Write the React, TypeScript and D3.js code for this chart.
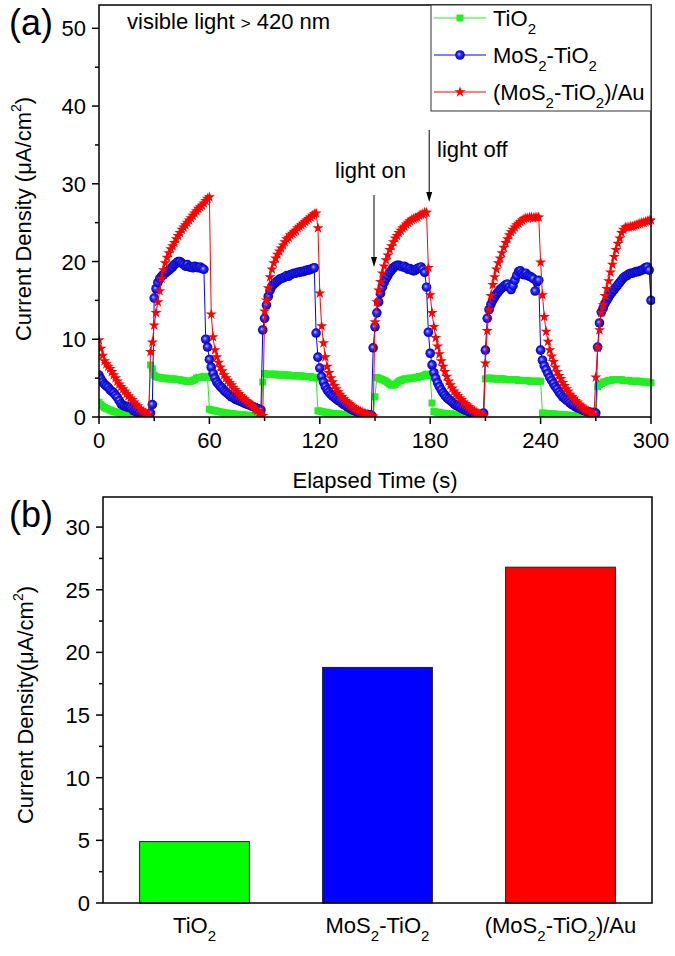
import * as d3 from "d3";

const FONT = "'Liberation Sans', Arial, Helvetica, sans-serif";

// photocurrent, one sample per second from 0 s to 300 s
const TIO2 = [
  1.9, 1.6, 1.4, 1.2, 1.1, 1.0, 0.9, 0.8, 0.7, 0.65, 0.6, 0.55, 0.5, 0.45, 0.4, 0.35, 0.3, 0.3, 0.25, 0.25,
  0.2, 0.2, 0.15, 0.15, 0.1, 0.1, 0.1, 0.1,
  6.7, 6.2, 5.4, 5.2, 5.1, 5.1, 5.0, 5.0, 5.0, 4.9, 4.9, 4.9, 4.9, 4.9, 4.8, 4.8, 4.8, 4.7, 4.7, 4.6, 4.6, 4.6,
  4.6, 4.7, 4.8, 5.0, 5.1, 5.1, 5.1, 5.2, 5.2, 5.1,
  1.0, 0.9, 0.85, 0.8, 0.75, 0.7, 0.65, 0.6, 0.55, 0.5, 0.5, 0.45, 0.4, 0.4, 0.35, 0.35, 0.3, 0.3, 0.3, 0.25,
  0.25, 0.2, 0.2, 0.2, 0.15, 0.15, 0.15, 0.1, 0.1,
  4.5, 5.6, 5.5, 5.5, 5.5, 5.5, 5.5, 5.5, 5.4, 5.4, 5.4, 5.4, 5.4, 5.4, 5.4, 5.3, 5.3, 5.3, 5.3, 5.3,
  5.3, 5.3, 5.2, 5.2, 5.2, 5.2, 5.2, 5.1, 5.1, 5.0,
  0.8, 0.75, 0.7, 0.65, 0.6, 0.55, 0.5, 0.5, 0.45, 0.45, 0.4, 0.4, 0.35, 0.35, 0.3, 0.3, 0.25, 0.25, 0.2, 0.2,
  0.2, 0.15, 0.15, 0.15, 0.1, 0.1, 0.1, 0.1, 0.1, 0.1, 0.1,
  2.6, 5.1, 5.0, 4.9, 4.8, 4.7, 4.6, 4.4, 4.2, 4.1, 4.1, 4.2, 4.4, 4.6, 4.7, 4.8, 4.9, 4.9, 4.9, 5.0,
  5.0, 5.0, 5.1, 5.1, 5.2, 5.2, 5.3, 5.4, 5.5, 5.5, 5.3,
  1.8, 0.7, 0.65, 0.6, 0.55, 0.5, 0.5, 0.45, 0.45, 0.4, 0.4, 0.35, 0.35, 0.3, 0.3, 0.3, 0.25, 0.25, 0.2, 0.2,
  0.2, 0.15, 0.15, 0.15, 0.1, 0.1, 0.1, 0.1, 0.1,
  4.9, 5.0, 5.0, 5.0, 4.9, 4.9, 4.9, 4.9, 4.9, 4.9, 4.9, 4.8, 4.8, 4.8, 4.8, 4.8, 4.8, 4.8, 4.7, 4.7,
  4.7, 4.7, 4.7, 4.7, 4.6, 4.6, 4.6, 4.6, 4.6, 4.6, 4.6,
  0.5, 0.5, 0.45, 0.45, 0.4, 0.4, 0.4, 0.35, 0.35, 0.3, 0.3, 0.3, 0.25, 0.25, 0.25, 0.2, 0.2, 0.2, 0.2, 0.15,
  0.15, 0.15, 0.15, 0.1, 0.1, 0.1, 0.1, 0.1, 0.1, 0.1,
  3.9, 4.2, 4.3, 4.5, 4.5, 4.6, 4.7, 4.7, 4.8, 4.8, 4.8, 4.8, 4.8, 4.8, 4.7, 4.7, 4.7, 4.7, 4.6, 4.6,
  4.6, 4.6, 4.6, 4.6, 4.5, 4.5, 4.5, 4.5, 4.4, 4.4,
];

const MOS2_TIO2 = [
  5.4, 4.9, 4.5, 4.2, 4.0, 3.8, 3.5, 3.3, 3.1, 2.8, 2.5, 2.1, 1.7, 1.5, 1.4, 1.3, 1.3, 1.2, 1.0, 0.8,
  0.7, 0.6, 0.5, 0.45, 0.4, 0.35, 0.3, 0.3, 0.5, 1.6,
  15.3, 16.5, 17.3, 17.8, 18.1, 18.3, 18.5, 18.7, 18.9, 19.1, 19.3, 19.6, 19.8, 20.0, 20.0, 19.8, 19.6, 19.4, 19.6, 19.3,
  19.3, 19.2, 19.4, 19.3, 19.2, 19.3, 19.1, 19.0,
  10.0, 9.0, 7.4, 6.4, 5.6, 5.0, 4.5, 4.2, 3.9, 3.7, 3.4, 3.2, 3.0, 2.8, 2.6, 2.5, 2.3, 2.2, 2.1, 2.0,
  1.9, 1.8, 1.7, 1.6, 1.5, 1.4, 1.3, 1.2, 1.1, 1.0, 0.9,
  11.2, 12.7, 14.4, 15.5, 16.3, 16.8, 17.1, 17.3, 17.5, 17.7, 17.8, 17.9, 18.0, 18.2, 18.1, 18.3, 18.4, 18.5, 18.5, 18.6,
  18.6, 18.7, 18.7, 18.8, 18.9, 18.9, 19.0, 19.1, 19.2,
  10.8, 7.7, 6.3, 5.2, 4.5, 3.9, 3.5, 3.2, 2.9, 2.7, 2.5, 2.3, 2.1, 2.0, 1.8, 1.6, 1.5, 1.3, 1.2, 1.0,
  0.9, 0.8, 0.7, 0.6, 0.5, 0.4, 0.35, 0.3, 0.3, 0.25, 0.25,
  8.9, 11.6, 13.4, 14.8, 15.9, 16.7, 17.3, 17.8, 18.2, 18.6, 18.9, 19.2, 19.4, 19.5, 19.5, 19.4, 19.3, 19.4, 19.2, 19.0,
  19.1, 18.9, 18.8, 18.9, 19.1, 19.2, 19.3, 19.0, 18.6,
  16.7, 10.9, 8.2, 6.7, 5.7, 5.0, 4.4, 3.9, 3.5, 3.1, 2.8, 2.5, 2.3, 2.1, 1.9, 1.7, 1.5, 1.4, 1.3, 1.1,
  1.0, 0.9, 0.8, 0.7, 0.6, 0.5, 0.4, 0.35, 0.3, 0.3, 0.3,
  0.5, 8.6, 12.7, 13.8, 14.5, 15.0, 15.4, 15.8, 16.1, 16.4, 16.6, 16.8, 17.0, 17.1, 16.7, 16.4, 16.9, 17.6, 18.2, 18.7,
  18.8, 18.5, 18.3, 18.5, 18.2, 18.1, 18.0, 17.8, 16.2, 17.4, 17.6,
  8.6, 7.3, 6.6, 6.1, 5.6, 5.1, 4.7, 4.3, 3.9, 3.6, 3.2, 2.9, 2.6, 2.4, 2.2, 2.0, 1.8, 1.6, 1.5, 1.3,
  1.2, 1.1, 1.0, 0.9, 0.8, 0.7, 0.7, 0.6, 0.5, 0.6, 0.5,
  9.0, 12.1, 13.5, 14.0, 14.6, 15.0, 15.4, 15.8, 16.1, 16.4, 16.7, 17.0, 17.3, 17.6, 17.9, 18.1, 18.2, 18.4, 18.5, 18.5,
  18.6, 18.7, 18.7, 18.8, 18.9, 19.0, 19.2, 19.3, 18.9, 15.0,
];

const MOS2_TIO2_AU = [
  9.9, 8.8, 7.9, 7.2, 6.8, 6.5, 6.2, 5.8, 5.4, 5.0, 4.6, 4.2, 3.9, 3.6, 3.3, 3.0, 2.7, 2.4, 2.2, 1.9,
  1.6, 1.4, 1.1, 0.9, 0.7, 0.5, 0.3, 0.2,
  8.4, 9.6, 11.8, 13.4, 14.8, 16.2, 17.8, 18.9, 19.8, 20.5, 21.1, 21.6, 22.0, 22.4, 22.9, 23.3, 23.7, 24.1, 24.4, 24.7,
  25.0, 25.3, 25.6, 25.9, 26.2, 26.5, 26.8, 27.0, 27.2, 27.5, 27.8, 28.1, 28.3,
  13.2, 10.3, 8.6, 7.7, 7.0, 6.4, 5.9, 5.4, 5.0, 4.7, 4.4, 4.1, 3.8, 3.5, 3.2, 3.0, 2.7, 2.5, 2.3, 2.1,
  1.9, 1.7, 1.5, 1.3, 1.0, 0.8, 0.5, 0.3, 0.15,
  13.6, 15.0, 16.6, 18.0, 19.0, 19.8, 20.4, 20.9, 21.3, 21.7, 22.1, 22.5, 22.9, 23.1, 23.4, 23.6, 23.8, 24.0, 24.3, 24.5,
  24.7, 24.9, 25.1, 25.3, 25.5, 25.7, 25.9, 26.1, 26.2,
  24.3, 15.9, 11.7, 9.5, 7.7, 6.5, 5.7, 5.0, 4.5, 4.0, 3.6, 3.2, 2.9, 2.6, 2.3, 2.1, 1.9, 1.7, 1.5, 1.3,
  1.1, 0.95, 0.8, 0.7, 0.6, 0.5, 0.4, 0.3, 0.2, 0.15, 0.1,
  12.2, 14.8, 16.3, 17.4, 18.5, 19.4, 20.2, 20.8, 21.5, 22.0, 22.5, 23.0, 23.3, 23.7, 24.0, 24.3, 24.5, 24.8, 25.0, 25.2,
  25.4, 25.5, 25.6, 25.7, 25.9, 26.0, 26.1, 26.3, 26.3,
  19.2, 15.7, 13.4, 11.6, 10.2, 9.1, 8.1, 7.2, 6.5, 5.8, 5.2, 4.6, 4.1, 3.7, 3.3, 3.0, 2.7, 2.4, 2.2, 1.9,
  1.7, 1.5, 1.3, 1.1, 0.9, 0.75, 0.6, 0.45, 0.35, 0.25, 0.15,
  6.9, 11.1, 13.8, 15.6, 17.0, 18.0, 19.0, 19.8, 20.4, 21.1, 21.8, 22.4, 22.9, 23.4, 23.8, 24.1, 24.4, 24.7, 24.9, 25.1,
  25.3, 25.5, 25.6, 25.6, 25.7, 25.7, 25.6, 25.7, 25.7, 25.7,
  19.9, 15.7, 12.9, 11.0, 9.7, 8.6, 7.8, 7.1, 6.4, 5.8, 5.3, 4.9, 4.4, 4.0, 3.6, 3.3, 2.9, 2.6, 2.4, 2.1,
  1.9, 1.6, 1.4, 1.2, 1.0, 0.85, 0.7, 0.5, 0.35, 0.2,
  5.1, 8.9, 11.2, 13.4, 14.4, 15.6, 16.5, 17.5, 18.6, 19.6, 20.6, 21.5, 22.3, 23.0, 23.7, 24.1, 24.4, 24.4, 24.4, 24.5,
  24.5, 24.6, 24.7, 24.8, 24.9, 25.0, 25.0, 25.1, 25.2, 25.3, 25.3,
];

const SAMPLE_STEP_S = 1;
const SERIES_LABELS = ["TiO2", "MoS2-TiO2", "(MoS2-TiO2)/Au"];
const SERIES_COLORS = ["#22ee22", "#0000ff", "#ff0000"];

const TIME_TICKS = [0, 60, 120, 180, 240, 300];
const CURRENT_TICKS = [0, 10, 20, 30, 40, 50];

// panel (b): averaged photocurrent
const BAR_LABELS = ["TiO2", "MoS2-TiO2", "(MoS2-TiO2)/Au"];
const BAR_VALUES = [4.9, 18.8, 26.8];
const BAR_COLORS = ["#00ff00", "#0000ff", "#ff0000"];
const BAR_TICKS = [0, 5, 10, 15, 20, 25, 30];

const LIGHT_ON_S = 150;
const LIGHT_OFF_S = 180;

const A = { left: 99, right: 651, top: 5, bottom: 417 };
const B = { left: 103, right: 652, top: 497, bottom: 903 };

const starPath = d3.symbol(d3.symbolStar, 38)() as string;

// digits become subscripts: "MoS2-TiO2" -> MoS₂-TiO₂
const Chem = ({ text, sub = 15, shift = 8 }: { text: string; sub?: number; shift?: number }) => {
  let lowered = false;
  return (
    <>
      {text
        .split(/(\d)/)
        .filter((p) => p !== "")
        .map((p, i) => {
          const isSub = /^\d$/.test(p);
          const dy = isSub ? (lowered ? 0 : shift) : lowered ? -shift : 0;
          lowered = isSub;
          return (
            <tspan key={i} dy={dy} fontSize={isSub ? sub : undefined}>
              {p}
            </tspan>
          );
        })}
    </>
  );
};

const Marker = ({ kind, x, y, color }: { kind: number; x: number; y: number; color: string }) => {
  if (kind === 0) return <rect x={x - 3.5} y={y - 3.5} width={7} height={7} fill={color} />;
  if (kind === 1) return <circle cx={x} cy={y} r={4.8} fill="url(#ball)" />;
  return <path d={starPath} transform={`translate(${x},${y})`} fill={color} />;
};

const Arrow = ({ x, y0, y1 }: { x: number; y0: number; y1: number }) => (
  <g>
    <line x1={x} x2={x} y1={y0} y2={y1 - 8} stroke="#000" strokeWidth={1} />
    <path d={`M${x - 3},${y1 - 10}L${x + 3},${y1 - 10}L${x},${y1}Z`} fill="#000" />
  </g>
);

const YTitle = ({ x, y, text }: { x: number; y: number; text: string }) => (
  <text
    transform={`translate(${x},${y}) rotate(-90)`}
    textAnchor="middle"
    fontSize={22}
  >
    {text}
    <tspan fontSize={14} dy={-10}>2</tspan>
    <tspan dy={10}>)</tspan>
  </text>
);

export default function App() {
  const x = d3.scaleLinear().domain([0, 300]).range([A.left, A.right]);
  const y = d3.scaleLinear().domain([0, 53]).range([A.bottom, A.top]);

  const series = [TIO2, MOS2_TIO2, MOS2_TIO2_AU];
  const line = d3
    .line<number>()
    .x((_, i) => x(i * SAMPLE_STEP_S))
    .y((d) => y(d));

  const xb = d3
    .scaleBand<string>()
    .domain(BAR_LABELS)
    .range([B.left, B.right])
    .paddingInner(0.4)
    .paddingOuter(0.2);
  const yb = d3.scaleLinear().domain([0, 32.4]).range([B.bottom, B.top]);

  const minorTime = d3.range(30, 300, 60);
  const minorCurrent = d3.range(5, 51, 10);
  const minorBar = d3.range(2.5, 30, 5);

  return (
    <svg
      width={675}
      height={956}
      style={{ position: "absolute", left: 0, top: 0, background: "#fff" }}
      fontFamily={FONT}
    >
      <defs>
        <radialGradient id="ball" cx="50%" cy="50%" r="50%" fx="38%" fy="38%">
          <stop offset="0%" stopColor="#b8b8ff" />
          <stop offset="45%" stopColor="#2a2aff" />
          <stop offset="100%" stopColor="#0000b4" />
        </radialGradient>
        <clipPath id="plotA">
          <rect x={A.left} y={A.top} width={A.right - A.left + 4} height={A.bottom - A.top} />
        </clipPath>
      </defs>
      <rect width={675} height={956} fill="#fff" />

      {/* ---------- panel (a) ---------- */}
      <g clipPath="url(#plotA)">
        {series.map((values, s) => (
          <g key={s}>
            <path d={line(values) as string} fill="none" stroke={SERIES_COLORS[s]} strokeWidth={1} />
            {values.map((v, i) => (
              <Marker key={i} kind={s} x={x(i * SAMPLE_STEP_S)} y={y(v)} color={SERIES_COLORS[s]} />
            ))}
          </g>
        ))}
      </g>

      <rect
        x={A.left}
        y={A.top}
        width={A.right - A.left}
        height={A.bottom - A.top}
        fill="none"
        stroke="#000"
        strokeWidth={1.5}
      />
      {TIME_TICKS.map((t) => (
        <g key={t}>
          <line x1={x(t)} x2={x(t)} y1={A.bottom} y2={A.bottom + 7} stroke="#000" strokeWidth={1.5} />
          <text x={x(t)} y={A.bottom + 31} textAnchor="middle" fontSize={22}>
            {t}
          </text>
        </g>
      ))}
      {minorTime.map((t) => (
        <line key={t} x1={x(t)} x2={x(t)} y1={A.bottom} y2={A.bottom + 4} stroke="#000" strokeWidth={1.5} />
      ))}
      {CURRENT_TICKS.map((v) => (
        <g key={v}>
          <line x1={A.left - 7} x2={A.left} y1={y(v)} y2={y(v)} stroke="#000" strokeWidth={1.5} />
          <text x={A.left - 13} y={y(v) + 8} textAnchor="end" fontSize={22}>
            {v}
          </text>
        </g>
      ))}
      {minorCurrent.map((v) => (
        <line key={v} x1={A.left - 4} x2={A.left} y1={y(v)} y2={y(v)} stroke="#000" strokeWidth={1.5} />
      ))}
      <text x={(A.left + A.right) / 2} y={488} textAnchor="middle" fontSize={22}>
        Elapsed Time (s)
      </text>
      <YTitle x={31} y={219} text="Current Density (μA/cm" />
      <text x={9} y={35} fontSize={36}>
        (a)
      </text>
      <text x={127} y={29} fontSize={22}>
        visible light <tspan fontSize={17}>&gt;</tspan> 420 nm
      </text>

      {/* legend */}
      <rect x={431} y={A.top} width={A.right - 431} height={106} fill="#fff" stroke="#333" strokeWidth={1} />
      {SERIES_LABELS.map((label, s) => {
        const cy = 18 + s * 37;
        return (
          <g key={label}>
            <line x1={434} x2={486} y1={cy} y2={cy} stroke={SERIES_COLORS[s]} strokeWidth={1} />
            <Marker kind={s} x={460} y={cy} color={SERIES_COLORS[s]} />
            <text x={493} y={cy + 8} fontSize={22}>
              <Chem text={label} />
            </text>
          </g>
        );
      })}

      {/* light on / off annotations */}
      <text x={335} y={178} fontSize={22}>
        light on
      </text>
      <Arrow x={x(LIGHT_ON_S) - 1} y0={195} y1={267} />
      <text x={437} y={157} fontSize={22}>
        light off
      </text>
      <Arrow x={x(LIGHT_OFF_S) - 1} y0={130} y1={202} />

      {/* ---------- panel (b) ---------- */}
      {BAR_LABELS.map((label, i) => (
        <g key={label}>
          <rect
            x={xb(label)}
            y={yb(BAR_VALUES[i])}
            width={xb.bandwidth()}
            height={yb(0) - yb(BAR_VALUES[i])}
            fill={BAR_COLORS[i]}
            stroke="#222"
            strokeWidth={1}
          />
          <text x={(xb(label) as number) + xb.bandwidth() / 2} y={933} textAnchor="middle" fontSize={22}>
            <Chem text={label} />
          </text>
        </g>
      ))}
      <rect
        x={B.left}
        y={B.top}
        width={B.right - B.left}
        height={B.bottom - B.top}
        fill="none"
        stroke="#000"
        strokeWidth={1.5}
      />
      {BAR_TICKS.map((v) => (
        <g key={v}>
          <line x1={B.left - 7} x2={B.left} y1={yb(v)} y2={yb(v)} stroke="#000" strokeWidth={1.5} />
          <text x={B.left - 13} y={yb(v) + 8} textAnchor="end" fontSize={22}>
            {v}
          </text>
        </g>
      ))}
      {minorBar.map((v) => (
        <line key={v} x1={B.left - 4} x2={B.left} y1={yb(v)} y2={yb(v)} stroke="#000" strokeWidth={1.5} />
      ))}
      <YTitle x={33} y={705} text="Current Density(μA/cm" />
      <text x={9} y={527} fontSize={36}>
        (b)
      </text>
    </svg>
  );
}
